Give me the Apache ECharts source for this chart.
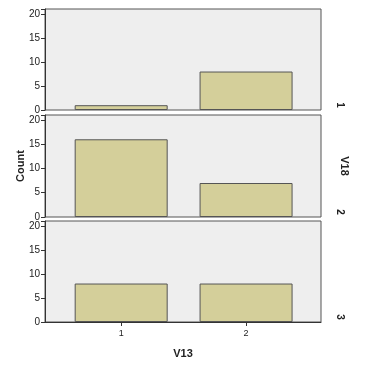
<!DOCTYPE html>
<html><head><meta charset="utf-8">
<script src="https://cdn.jsdelivr.net/npm/echarts@6/dist/echarts.min.js"></script>
<style>html,body{margin:0;padding:0;background:#fff}#c{width:371px;height:371px}</style>
</head><body><div id="c"></div>
<script>
const categories = [1, 2];
const panelLabels = ['1', '2', '3'];
const panel1 = [1, 8];
const panel2 = [16, 7];
const panel3 = [8, 8];
const yTicks = [0, 5, 10, 15, 20];

const panels = [panel1, panel2, panel3];
const tops = [9, 115, 221];
const heights = [101, 102, 101];
const font = 'Liberation Sans, Arial, sans-serif';

const chart = echarts.init(document.getElementById('c'));
const grids = [], xAxes = [], yAxes = [], series = [], graphics = [];
panels.forEach((vals, i) => {
  grids.push({left: 45, width: 276, top: tops[i], height: heights[i], show: true,
    backgroundColor: '#eeeeee', borderColor: '#555', borderWidth: 1});
  xAxes.push({type: 'value', gridIndex: i, min: 0.39, max: 2.6,
    splitLine: {show: false},
    axisLine: {show: i === 2, onZero: false, lineStyle: {color: '#333'}},
    axisTick: {show: i === 2, length: 4, customValues: categories, lineStyle: {color: '#333'}},
    axisLabel: {show: i === 2, color: '#222', fontSize: 9, fontFamily: font, margin: 7,
      customValues: categories},
    name: i === 2 ? 'V13' : '', nameLocation: 'middle', nameGap: 26, nameMoveOverlap: false,
    nameTextStyle: {fontWeight: 'bold', fontSize: 11, color: '#222', fontFamily: font}});
  yAxes.push({type: 'value', gridIndex: i, min: 0, max: 21, interval: 5,
    splitLine: {show: false},
    axisLine: {show: true, lineStyle: {color: '#333'}},
    axisTick: {show: true, length: 4, lineStyle: {color: '#333'}},
    axisLabel: {color: '#222', fontSize: 10, fontFamily: font, margin: 5,
      customValues: yTicks},
    name: i === 1 ? 'Count' : '', nameLocation: 'middle', nameGap: 19, nameMoveOverlap: false,
    nameTextStyle: {fontWeight: 'bold', fontSize: 11, color: '#222', fontFamily: font}});
  series.push({type: 'bar', xAxisIndex: i, yAxisIndex: i,
    data: categories.map((c, k) => [c, vals[k]]), barWidth: 93,
    itemStyle: {color: '#d4cf9a', borderColor: '#555', borderWidth: 1}, silent: true});
  graphics.push({type: 'text', x: 340, y: tops[i] + heights[i] - 5, rotation: -Math.PI/2,
    style: {text: panelLabels[i], fill: '#222', font: 'bold 10px ' + font,
      textAlign: 'center', textVerticalAlign: 'middle'}});
});
graphics.push({type: 'text', x: 344, y: 166, rotation: -Math.PI/2,
  style: {text: 'V18', font: 'bold 11px ' + font, fill: '#222', textAlign: 'center', textVerticalAlign: 'middle'}});

chart.setOption({animation: false, grid: grids, xAxis: xAxes, yAxis: yAxes, series: series, graphic: graphics});
</script></body></html>
